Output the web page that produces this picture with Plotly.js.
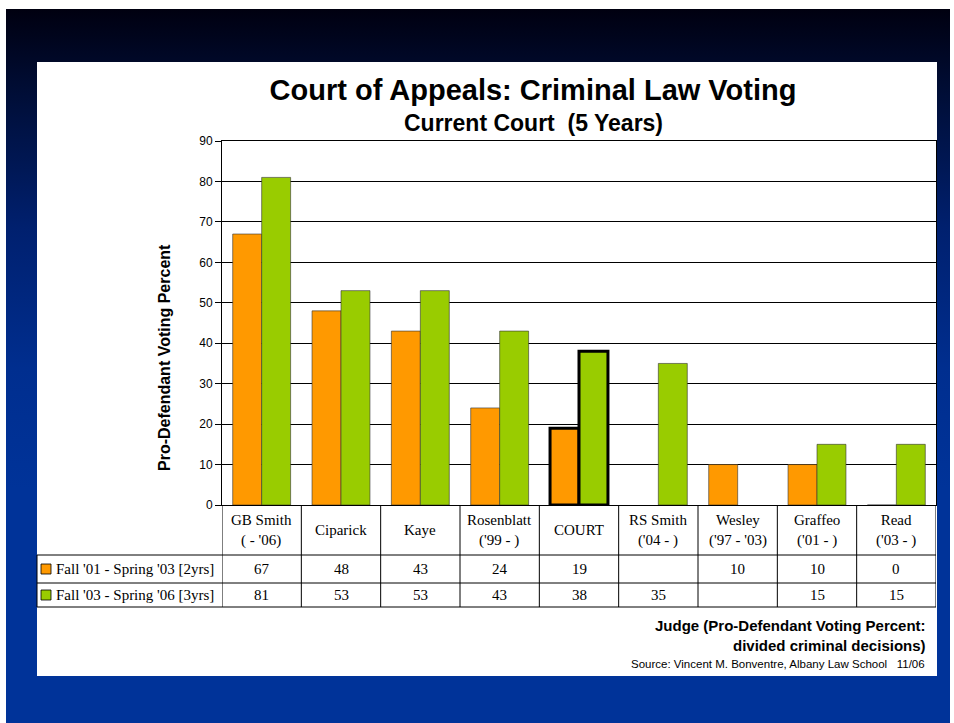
<!DOCTYPE html>
<html>
<head>
<meta charset="utf-8">
<script src="https://cdn.plot.ly/plotly-3.0.1.min.js"></script>
<style>
  html, body { margin:0; padding:0; background:#ffffff; }
  #wrap { position:relative; width:954px; height:723px; overflow:hidden; }
  #bg { position:absolute; left:6px; top:9px; width:944px; height:714px;
        background: linear-gradient(to bottom, #000010 0px, #000d35 80px, #00206f 220px, #002e8f 360px, #003399 480px, #003399 714px); }
  #chart { position:absolute; left:0; top:0; width:954px; height:723px; }
</style>
</head>
<body>
<div id="wrap"><div id="bg"></div><div id="chart"></div></div>
<script>
// ---- data ----
const categories = ["GB Smith", "Ciparick", "Kaye", "Rosenblatt", "COURT", "RS Smith", "Wesley", "Graffeo", "Read"];
const categoryLabels = ["GB Smith<br>( - '06)", "Ciparick", "Kaye", "Rosenblatt<br>('99 - )", "COURT", "RS Smith<br>('04 - )", "Wesley<br>('97 - '03)", "Graffeo<br>('01 - )", "Read<br>('03 - )"];
const seriesNames = ["Fall '01 - Spring '03 [2yrs]", "Fall '03 - Spring '06 [3yrs]"];
const fall01 = [67, 48, 43, 24, 19, null, 10, 10, 0];
const fall03 = [81, 53, 53, 43, 38, 35, null, 15, 15];
const yTicks = [0, 10, 20, 30, 40, 50, 60, 70, 80, 90];

// ---- styling ----
const orange = "#FF9900", green = "#99CC00";
const W = 954, H = 723;
const px = v => v / W;
const py = v => 1 - v / H;
const lineW = categories.map(c => c === "COURT" ? 3 : 0.6);
const lineC = categories.map(c => c === "COURT" ? "#000000" : "#333333");

const traces = [
  { type: "bar", name: seriesNames[0], x: categories, y: fall01,
    marker: { color: orange, line: { color: lineC, width: lineW } }, hoverinfo: "y" },
  { type: "bar", name: seriesNames[1], x: categories, y: fall03,
    marker: { color: green, line: { color: lineC, width: lineW } }, hoverinfo: "y" }
];

const tableTop = 505, hdrBot = 555, row1Bot = 583, row2Bot = 607;
const shapes = [];
// white panel
shapes.push({ type: "rect", xref: "paper", yref: "paper", x0: px(37), x1: px(937), y0: py(676), y1: py(62),
  fillcolor: "#ffffff", line: { width: 0 }, layer: "below" });
// table vertical lines at category boundaries
for (let i = 0; i <= categories.length; i++) {
  shapes.push({ type: "line", xref: "x", yref: "paper", x0: i - 0.5, x1: i - 0.5, y0: py(tableTop), y1: py(row2Bot),
    line: { color: "#000000", width: 1 } });
}
// left border of row label column
shapes.push({ type: "line", xref: "paper", yref: "paper", x0: px(37), x1: px(37), y0: py(hdrBot), y1: py(row2Bot), line: { color: "#000", width: 1 } });
// horizontal lines
[hdrBot, row1Bot, row2Bot].forEach(yy => {
  shapes.push({ type: "line", xref: "paper", yref: "paper", x0: px(37), x1: px(936), y0: py(yy), y1: py(yy), line: { color: "#000", width: 1 } });
});
// legend keys
[[orange, (hdrBot + row1Bot) / 2], [green, (row1Bot + row2Bot) / 2]].forEach(([c, yc]) => {
  shapes.push({ type: "rect", xref: "paper", yref: "paper", x0: px(41), x1: px(51), y0: py(yc + 5), y1: py(yc - 5),
    fillcolor: c, line: { color: "#000", width: 0.8 } });
});

const serif = "Liberation Serif, Times New Roman, serif";
const sans = "Liberation Sans, Arial, sans-serif";
const annotations = [];
annotations.push({ text: "<b>Current Court  (5 Years)</b>", xref: "paper", yref: "paper", x: px(533), y: py(123),
  showarrow: false, font: { family: sans, size: 23, color: "#000" }, xanchor: "center", yanchor: "middle" });
annotations.push({ text: "<b>Pro-Defendant Voting Percent</b>", xref: "paper", yref: "paper", x: px(164), y: py(358),
  showarrow: false, textangle: -90, font: { family: sans, size: 16, color: "#000" }, xanchor: "center", yanchor: "middle" });
categories.forEach((c, i) => {
  annotations.push({ text: categoryLabels[i], xref: "x", yref: "paper", x: c, y: py((tableTop + hdrBot) / 2),
    showarrow: false, font: { family: serif, size: 15, color: "#000" }, xanchor: "center", yanchor: "middle" });
  annotations.push({ text: fall01[i] === null ? "" : String(fall01[i]), xref: "x", yref: "paper", x: c, y: py((hdrBot + row1Bot) / 2),
    showarrow: false, font: { family: serif, size: 15, color: "#000" }, xanchor: "center", yanchor: "middle" });
  annotations.push({ text: fall03[i] === null ? "" : String(fall03[i]), xref: "x", yref: "paper", x: c, y: py((row1Bot + row2Bot) / 2),
    showarrow: false, font: { family: serif, size: 15, color: "#000" }, xanchor: "center", yanchor: "middle" });
});
[(hdrBot + row1Bot) / 2, (row1Bot + row2Bot) / 2].forEach((yc, k) => {
  annotations.push({ text: seriesNames[k], xref: "paper", yref: "paper", x: px(54), y: py(yc),
    showarrow: false, font: { family: serif, size: 15, color: "#000" }, xanchor: "left", yanchor: "middle" });
});
annotations.push({ text: "<b>Judge (Pro-Defendant Voting Percent:</b>", xref: "paper", yref: "paper", x: px(928), y: py(625),
  showarrow: false, font: { family: sans, size: 15, color: "#000" }, xanchor: "right", yanchor: "middle" });
annotations.push({ text: "<b>divided criminal decisions)</b>", xref: "paper", yref: "paper", x: px(928), y: py(645),
  showarrow: false, font: { family: sans, size: 15, color: "#000" }, xanchor: "right", yanchor: "middle" });
annotations.push({ text: "Source: Vincent M. Bonventre, Albany Law School   11/06", xref: "paper", yref: "paper", x: px(927), y: py(664),
  showarrow: false, font: { family: sans, size: 11.5, color: "#000" }, xanchor: "right", yanchor: "middle" });

const layout = {
  width: W, height: H,
  margin: { l: 0, r: 0, t: 0, b: 0, pad: 0 },
  paper_bgcolor: "rgba(0,0,0,0)",
  plot_bgcolor: "#ffffff",
  showlegend: false,
  barmode: "group",
  bargap: 0.27,
  bargroupgap: 0,
  title: { text: "<b>Court of Appeals: Criminal Law Voting</b>", x: px(533), y: py(90), xanchor: "center", yanchor: "middle",
    font: { family: sans, size: 29, color: "#000" } },
  xaxis: { domain: [px(222), px(936)], range: [-0.5, categories.length - 0.5], showticklabels: false, ticks: "",
    showline: true, mirror: true, linecolor: "#000", linewidth: 1, showgrid: false, zeroline: false, fixedrange: true },
  yaxis: { domain: [py(505), py(141)], range: [0, 90], tickvals: yTicks, ticks: "outside", ticklen: 6, tickcolor: "#000",
    showline: true, mirror: true, linecolor: "#000", linewidth: 1, gridcolor: "#000", gridwidth: 1, zeroline: false,
    tickfont: { family: sans, size: 12, color: "#000" }, fixedrange: true },
  shapes: shapes,
  annotations: annotations
};

Plotly.newPlot("chart", traces, layout, { displayModeBar: false, staticPlot: true });
</script>
</body>
</html>
